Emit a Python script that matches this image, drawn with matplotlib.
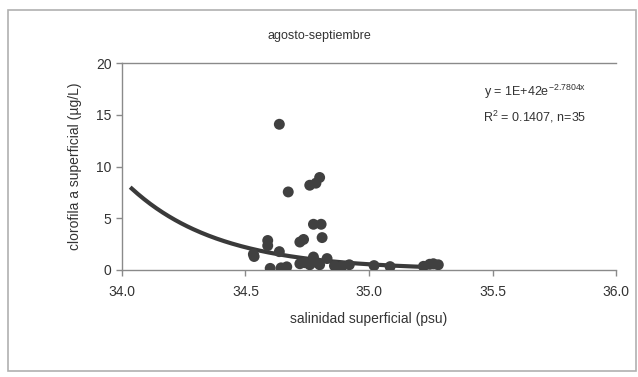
import numpy as np
import matplotlib.pyplot as plt
from matplotlib.patches import Rectangle

# salinidad superficial (psu) vs clorofila a superficial (ug/L), n=35
salinidad = [34.637, 34.673, 34.760, 34.785, 34.800, 34.775, 34.806, 34.810,
             34.720, 34.735, 34.590, 34.590, 34.532, 34.637, 34.600, 34.644,
             34.667, 34.720, 34.740, 34.760, 34.775, 34.790, 34.800, 34.830,
             34.860, 34.875, 34.890, 34.920, 35.020, 35.085, 35.220, 35.245,
             35.260, 35.280, 34.535]
clorofila = [14.1, 7.55, 8.2, 8.4, 8.95, 4.42, 4.42, 3.13,
             2.7, 2.95, 2.85, 2.35, 1.52, 1.77, 0.15, 0.2,
             0.3, 0.6, 0.7, 0.5, 1.25, 0.7, 0.5, 1.1,
             0.4, 0.2, 0.35, 0.5, 0.42, 0.32, 0.35, 0.55,
             0.6, 0.5, 1.3]

# ajuste exponencial y = a*exp(b*x)
a_fit = 1e42
b_fit = -2.7804
x_ini, x_fin = 34.04, 35.28

x_ticks = [34.0, 34.5, 35.0, 35.5, 36.0]
y_ticks = [0, 5, 10, 15, 20]

plt.rcParams['font.family'] = ['Liberation Sans', 'DejaVu Sans']
plt.rcParams['mathtext.fontset'] = 'custom'
plt.rcParams['mathtext.rm'] = 'Liberation Sans'
gris = '#3a3a3a'

fig = plt.figure(figsize=(6.38, 3.77), dpi=100)
fig.patch.set_facecolor('white')
# marco del grafico
fig.patches.append(Rectangle((0.012, 0.015), 0.985, 0.958, transform=fig.transFigure,
                             fill=False, edgecolor='#b0b0b0', linewidth=1.2))

ax = fig.add_axes([0.191, 0.284, 0.775, 0.548])

xx = np.linspace(x_ini, x_fin, 200)
ax.plot(xx, a_fit * np.exp(b_fit * xx), color=gris, linewidth=3, zorder=2)
ax.scatter(salinidad, clorofila, s=62, color='#404040', edgecolors='none', zorder=3)

ax.set_xlim(34.0, 36.0)
ax.set_ylim(0, 20)
ax.set_xticks(x_ticks)
ax.set_xticklabels(['%.1f' % t for t in x_ticks])
ax.set_yticks(y_ticks)

for s in ['left', 'bottom', 'top']:
    ax.spines[s].set_color('#8a8a8a')
    ax.spines[s].set_linewidth(1.0)
ax.spines['right'].set_visible(False)
ax.tick_params(axis='both', colors='#8a8a8a', labelcolor='#333333', labelsize=10,
               length=4, width=1.0)
ax.tick_params(axis='x', pad=7)

ax.set_xlabel('salinidad superficial (psu)', fontsize=10, color='#333333', labelpad=9)
ax.set_ylabel('clorofila a superficial (\u00b5g/L)', fontsize=10, color='#333333', labelpad=10)
fig.text(0.5, 0.905, 'agosto-septiembre', ha='center', va='center', fontsize=9, color='#333333')

ax.text(0.835, 0.86, r'y = 1E+42e$^{\mathrm{-2.7804x}}$', transform=ax.transAxes, ha='center',
        va='center', fontsize=9, color='#333333')
ax.text(0.835, 0.74, r'R$^{\mathrm{2}}$ = 0.1407, n=35', transform=ax.transAxes, ha='center',
        va='center', fontsize=9, color='#333333')

plt.savefig('out.png', dpi=100)
